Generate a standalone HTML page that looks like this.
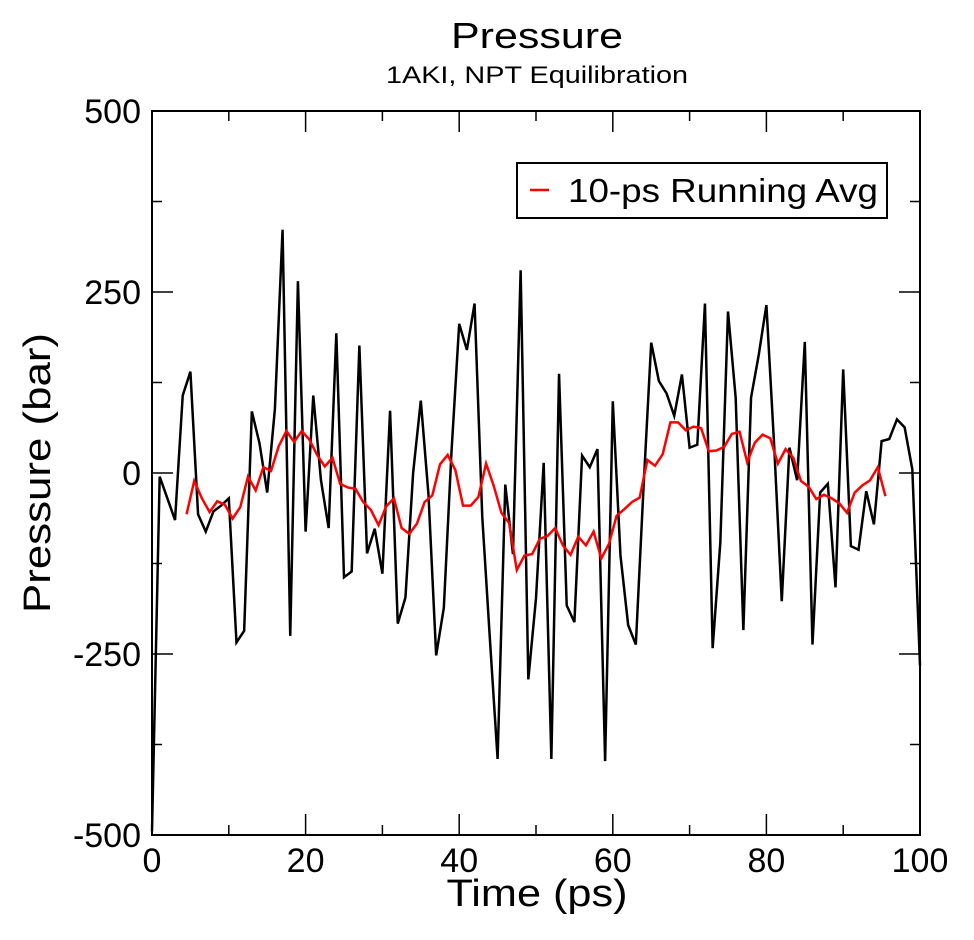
<!DOCTYPE html>
<html><head><meta charset="utf-8"><style>
body{margin:0;background:#fff}
svg{display:block;font-family:"Liberation Sans",sans-serif}
</style></head><body>
<svg id="chart" width="974" height="940" viewBox="0 0 974 940">
<text x="537" y="48" font-size="36" text-anchor="middle" textLength="172" lengthAdjust="spacingAndGlyphs">Pressure</text>
<text x="537" y="83" font-size="24" text-anchor="middle" textLength="302" lengthAdjust="spacingAndGlyphs">1AKI, NPT Equilibration</text>
<g id="axes"></g>
<g id="series"></g>
<text x="537" y="906" font-size="38" text-anchor="middle" textLength="181" lengthAdjust="spacingAndGlyphs">Time (ps)</text>
<text transform="translate(50,473) rotate(-90)" font-size="38" text-anchor="middle" textLength="280" lengthAdjust="spacingAndGlyphs">Pressure (bar)</text>
<g>
<rect x="517" y="163" width="370" height="55" fill="#fff" stroke="#000" stroke-width="2"/>
<line x1="530" y1="190" x2="549" y2="190" stroke="#f00" stroke-width="2.5"/>
<text x="568" y="202" font-size="33" textLength="310" lengthAdjust="spacingAndGlyphs">10-ps Running Avg</text>
</g>
</svg>
<script>
const pressure = [-495,-5,-35,-65,107,140,-57,-81,-53,-45,-35,-234,-218,85,41,-27,88,336,-225,265,-81,107,-10,-76,193,-144,-136,176,-111,-77,-139,86,-208,-172,0,100,-30,-252,-186,30,206,170,234,-60,-230,-395,-16,-112,280,-285,-173,14,-395,137,-183,-206,24,8,33,-398,99,-114,-210,-237,-20,180,127,110,79,136,35,39,234,-242,-96,223,104,-217,104,163,232,40,-177,35,-10,181,-237,-27,-15,-158,143,-101,-106,-25,-71,44,47,74,63,5,-266];
const runAvg = [-57,-11,-35,-54,-39,-44,-63,-47,-5,-24,8,3,37,58,43,58,46,25,9,21,-15,-20,-22,-40,-51,-72,-46,-35,-76,-84,-70,-40,-31,12,25,4,-45,-45,-33,13,-18,-55,-69,-134,-114,-112,-91,-87,-76,-100,-113,-88,-100,-81,-118,-98,-59,-50,-40,-34,18,10,26,70,70,59,64,62,30,31,36,54,57,15,42,53,48,13,33,21,-11,-19,-36,-30,-35,-42,-55,-27,-17,-10,8,-32];
const xTicks = [0,20,40,60,80,100];
const yTicks = [-500,-250,0,250,500];
const NS="http://www.w3.org/2000/svg";
const L=152,R=920,T=111,B=835;
const xs=t=>L+(t/100)*(R-L);
const ys=v=>B-((v+500)/1000)*(B-T);
const ax=document.getElementById('axes'), sg=document.getElementById('series');
function mk(tag,attrs,parent){const e=document.createElementNS(NS,tag);for(const k in attrs)e.setAttribute(k,attrs[k]);parent.appendChild(e);return e;}
for(let t=0;t<=100;t+=10){const len=(t%20===0)?21:10;
 let e=mk('line',{x1:xs(t),x2:xs(t),y1:B,y2:B-len,stroke:'#000','stroke-width':1.5},ax);
 
 
 e=mk('line',{x1:xs(t),x2:xs(t),y1:T,y2:T+len,stroke:'#000','stroke-width':1.5},ax);
 
 }
for(let v=-500;v<=500;v+=125){const len=(v%250===0)?21:10;
 let e=mk('line',{x1:L,x2:L+len,y1:ys(v),y2:ys(v),stroke:'#000','stroke-width':1.5},ax);
 
 
 e=mk('line',{x1:R,x2:R-len,y1:ys(v),y2:ys(v),stroke:'#000','stroke-width':1.5},ax);
 
 }
xTicks.forEach(t=>{const e=mk('text',{x:xs(t),y:872,'font-size':34,'text-anchor':'middle'},ax);e.textContent=t;
 
 });
yTicks.forEach(v=>{const e=mk('text',{x:141,y:ys(v)+12,'font-size':34,'text-anchor':'end'},ax);e.textContent=v;
 
 });
const fr=mk('rect',{x:L,y:T,width:R-L,height:B-T,fill:'none',stroke:'#000','stroke-width':2},ax);


const p1=mk('polyline',{points:pressure.map((v,i)=>xs(i)+','+ys(v)).join(' '),fill:'none',stroke:'#000','stroke-width':2.5,'stroke-linejoin':'miter'},sg);


const p2=mk('polyline',{points:runAvg.map((v,i)=>xs(i+4.5)+','+ys(v)).join(' '),fill:'none',stroke:'#f00','stroke-width':2.5},sg);


</script>
</body></html>
